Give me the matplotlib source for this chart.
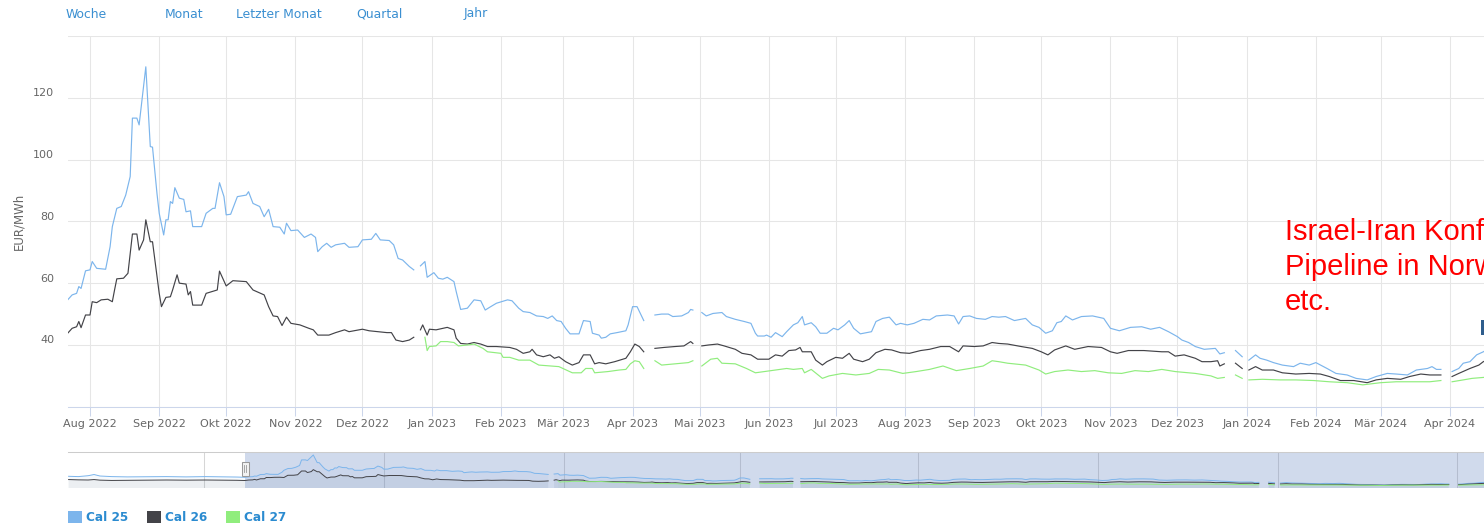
import numpy as np
import matplotlib
matplotlib.use("Agg")
import matplotlib.pyplot as plt
import matplotlib.dates as mdates
from matplotlib.patches import Patch, Rectangle
from matplotlib.transforms import ScaledTranslation, blended_transform_factory

# Trading days are counted from 1 Aug 2022; None marks a holiday gap in the series
cal25_day = [-100, -95, -90, -87, -84, -78, -70, -60, -50, -40, -30, -20, -14,
             -10, -8, -6, -5, -4, -2, 0, 1, 3, 7, 9, 10, 12, 14, 16, 18, 19, 21, 22, 25, 27, 28,
             30, 31, 33, 34, 35, 36, 37, 38, 40, 42, 43, 45, 46, 50, 52, 55, 56, 58, 60, 61,
             63, 66, 70, 71, 73, 76, 78, 80, 82, 85, 87, 88, 90, 93, 96, 99, 101, 102, 104,
             106, 108, 110, 114, 116, 120, 122, 126, 128, 130, 134, 136, 138, 140, 143, 145,
             146, 148, 150, 151, 154, 156, 158, 160, 163, 164, 166, 169, 172, 175, 177, 179,
             182, 187, 189, 192, 194, 197, 200, 203, 205, 207, 209, 211, 213, 215, 219, 221,
             224, 225, 228, 229, 231, 233, 236, 240, 241, 243, 245, 248, 250, 253, 256, 259,
             261, 265, 268, 269, 270, 272, 274, 276, 279, 283, 285, 289, 293, 296, 298, 299,
             302, 303, 305, 307, 310, 312, 315, 317, 319, 320, 323, 325, 327, 330, 333, 335,
             338, 340, 342, 345, 348, 350, 352, 355, 358, 361, 363, 366, 369, 373, 376, 379,
             384, 387, 389, 391, 394, 397, 401, 404, 407, 410, 414, 419, 422, 425, 428, 431,
             433, 435, 437, 440, 444, 449, 454, 457, 461, 466, 471, 475, 479, 483, 487, 489,
             492, 495, 499, 504, 506, 508, 510, 513, 516, 517, 519, 522, 524, 527, 530, 534,
             539, 542, 546, 549, 554, 558, 563, 567, 572, 576, 581, 585, 590, 594, 599, 601,
             603, 605, 607, 610, 613, 615, 618, 621, 624, 627, 630]
cal25_eur = [58, 57, 60, 64, 59, 57, 56, 56.5, 57, 56, 57, 56, 55.5,
             54.6, 56.2, 56.7, 58.9, 58.3, 64, 64.3, 67, 64.8, 64.5, 71.8, 78.3, 84.2, 84.8, 88.5,
             94.5, 113.4, 113.4, 111.2, 130, 104.2, 104, 89, 82.6, 75.6, 80.5, 80.5, 86.4, 85.8,
             90.9, 87.5, 87.1, 83.1, 83.4, 78.3, 78.3, 82.6, 84.2, 84.2, 92.5, 88, 82.1, 82.3, 88,
             88.5, 89.6, 85.8, 84.8, 81.5, 83.9, 78.3, 78.1, 75.9, 79.4, 77, 77.2, 74.8, 75.9,
             74.8, 70.2, 71.8, 72.9, 71.6, 72.4, 72.9, 71.6, 71.8, 74, 74.2, 76.1, 74, 73.8,
             72.4, 68, 67.5, 65.4, 64.3, None, 65.6, 67, 61.9, 63.4, 61.6, 61.3, 61.9, 60.5,
             57.3, 51.5, 51.9, 54.6, 54.3, 51.3, 52.2, 53.5, 54.6, 54.3, 51.9, 50.8, 50.5, 49.4,
             49.2, 48.6, 49.4, 47.9, 47.6, 45.4, 43.6, 43.6, 47.9, 47.6, 43.8, 43.2, 42.2, 42.5,
             43.6, 44, 44.6, 46.5, 52.4, 52.4, 47.9, None, 49.7, 50, 50, 49.2, 49.4, 50.5, 51.5,
             51.3, None, 50.5, 49.4, 50.2, 50.5, 49.2, 48.3, 47.6, 47, 43.8, 42.9, 42.9, 43.2,
             42.5, 44, 42.7, 44.3, 46.5, 47.2, 49.2, 46.5, 47.2, 45.9, 43.8, 43.8, 45.4, 44.9,
             46.5, 47.9, 45.4, 43.6, 44, 44.3, 47.6, 48.6, 49, 46.5, 47, 46.5, 47, 48.3, 48.1,
             49.4, 49.7, 49.4, 46.8, 49.2, 49.4, 48.6, 48.3, 49.2, 49, 49.2, 47.9, 48.6, 46.5,
             45.7, 43.8, 44.6, 47.2, 47.6, 49.4, 48.1, 49.2, 49.4, 48.6, 45.4, 44.6, 45.7, 45.9,
             45.1, 45.7, 44.3, 42.7, 41.6, 40.8, 39.5, 38.6, 38.9, 37.1, 37.5, None, 38.2, 36.2,
             None, 35.1, 36.8, 35.7, 35.1, 34.3, 33.5, 33, 34.1, 33.5, 34.3, 32.4, 30.8, 30.3,
             29.2, 28.7, 29.8, 30.8, 30.6, 30.3, 31.9, 32.4, 33, 32.1, 32.1, None, 31.4, 32.4,
             34.1, 34.6, 36.8, 37.8, 39, 40]

cal26_day = [-100, -95, -90, -87, -84, -78, -70, -60, -50, -40, -30, -20, -14,
             -10, -8, -6, -5, -4, -2, 0, 1, 3, 5, 8, 10, 11, 12, 15, 17, 19, 21, 22, 24, 25, 27,
             28, 30, 31, 32, 34, 36, 37, 39, 40, 43, 44, 45, 46, 50, 52, 57, 58, 61, 64, 70, 73,
             78, 80, 82, 84, 86, 88, 90, 94, 98, 100, 102, 107, 110, 114, 116, 122, 125, 129,
             133, 135, 137, 140, 143, 145, 146, 148, 149, 151, 152, 155, 158, 160, 163, 164,
             166, 169, 172, 175, 178, 182, 188, 191, 194, 197, 198, 200, 203, 206, 208, 210,
             213, 216, 219, 221, 224, 226, 228, 231, 235, 240, 242, 244, 246, 248, 250, 253,
             257, 262, 266, 269, 270, 272, 274, 277, 281, 284, 289, 292, 296, 299, 302, 304,
             307, 310, 313, 316, 318, 319, 323, 325, 328, 330, 334, 337, 340, 342, 346, 349,
             352, 356, 359, 363, 367, 372, 376, 381, 385, 389, 391, 396, 400, 404, 407, 411,
             417, 422, 426, 429, 432, 437, 441, 447, 453, 457, 460, 465, 472, 480, 483, 486,
             490, 495, 498, 502, 505, 506, 508, 510, 513, 516, 517, 519, 522, 525, 530, 534,
             540, 546, 551, 555, 560, 566, 572, 576, 581, 587, 591, 596, 600, 605, 607, 610,
             613, 618, 622, 624, 627, 630]
cal26_eur = [47, 46, 45.5, 47, 45, 44, 44.5, 45, 45.5, 45, 45.5, 45, 44.5,
             43.8, 45.4, 45.9, 47.6, 45.6, 49.7, 49.7, 54, 53.7, 54.6, 54.8, 54, 57.8, 61.4,
             61.6, 63.2, 75.9, 75.9, 70.7, 74, 80.5, 73.4, 73.4, 62.1, 56.7, 52.4, 55.4, 55.6,
             57.8, 62.7, 60, 59.7, 56.2, 57.3, 52.9, 52.9, 56.7, 57.8, 63.9, 59.1, 60.8, 60.5,
             57.8, 56.2, 52.4, 49.4, 49.2, 46.3, 49, 47, 46.5, 45.4, 44.9, 43.2, 43.2, 44, 44.9,
             44.3, 45.1, 44.6, 44.3, 44, 44, 41.6, 41.1, 41.6, 42.5, None, 44.9, 46.5, 43.2,
             45.1, 44.9, 45.4, 45.7, 44.9, 42.2, 40.5, 40.3, 40.8, 40.3, 39.5, 39.5, 39.2, 38.6,
             37.3, 37.8, 38.6, 36.8, 36.2, 36.8, 35.7, 36.2, 34.6, 33.5, 34.3, 36.8, 36.8, 33.9,
             34.3, 33.9, 34.6, 35.7, 37.8, 40.3, 39.5, 37.8, None, 38.9, 39.2, 39.5, 39.7, 41.1,
             40.5, None, 39.7, 40, 40.3, 39.7, 38.6, 37.3, 36.8, 35.4, 35.4, 35.4, 36.8, 36.4,
             38.2, 38.4, 39.2, 37.8, 37.8, 35.1, 33.5, 34.6, 36, 35.7, 37.3, 35.4, 34.6, 35.4,
             37.5, 38.6, 38.4, 37.5, 37.3, 38.2, 38.6, 39.5, 39.5, 37.8, 39.7, 39.5, 39.7, 40.8,
             40.5, 40.3, 39.5, 38.9, 37.8, 36.8, 38.4, 39.7, 38.6, 39.5, 39.2, 37.8, 37.3, 38.2,
             38.2, 37.8, 37.8, 36.4, 36.8, 35.7, 34.6, 34.6, 34.9, 33.2, 33.9, None, 34.1, 32.4,
             None, 31.9, 33, 31.9, 31.9, 31, 30.6, 30.8, 30.6, 29.8, 28.5, 28.5, 27.8, 28.7,
             29.2, 28.9, 29.8, 30.6, 30.3, 30.3, None, 29.8, 30.8, 32.4, 33.5, 34.6, 35.5, 36]

cal27_day = [150, 151, 152, 155, 157, 160, 163, 165, 169, 172, 176, 178, 184, 185, 188, 192,
             197, 201, 210, 216, 220, 222, 225, 226, 232, 237, 240, 242, 244, 246, 248, 250,
             253, 256, 262, 268, 270, 272, 274, 278, 281, 283, 289, 294, 298, 302, 307, 312,
             315, 319, 320, 323, 328, 331, 337, 343, 349, 353, 358, 364, 370, 376, 382, 388,
             394, 400, 404, 407, 411, 419, 425, 428, 432, 438, 444, 450, 456, 462, 468, 474,
             480, 486, 495, 502, 505, 508, 510, 513, 516, 517, 519, 525, 533, 540, 548, 555,
             563, 570, 578, 585, 593, 600, 605, 607, 610, 615, 619, 624, 627, 630]
cal27_eur = [42.5, 38.2, 39.5, 39.7, 41.1, 41.1, 40.8, 39.7, 40, 40.3, 38.9, 37.8, 37.3, 36,
             36, 35.1, 35.1, 33.5, 33, 31, 31, 32.4, 32.4, 31, 31.4, 31.9, 32.1, 33.9, 34.9,
             34.6, 32.4, None, 34.9, 33.5, 33.9, 34.3, 34.9, None, 33.2, 35.4, 35.7, 34.1, 33.9,
             32.4, 31, 31.4, 31.9, 32.4, 32.1, 32.4, 31, 32.1, 29.2, 30, 30.8, 30.3, 30.8, 32.1,
             31.9, 30.8, 31.4, 32.1, 33.2, 31.7, 32.4, 33.2, 34.9, 34.6, 34.1, 33.5, 31.9, 30.6,
             31.4, 31.9, 31.4, 31.7, 31, 30.8, 31.7, 31.4, 32.1, 31.4, 30.8, 30, 29.2, 29.5, None,
             30.3, 29.2, None, 28.7, 28.9, 28.7, 28.7, 28.5, 28.1, 27.8, 27.1, 27.8, 28.1, 28.1,
             28.1, 28.5, None, 28.1, 28.7, 29.2, 29.5, 29.8, 30]

series_names = ["Cal 25", "Cal 26", "Cal 27"]
series_colors = ["#7cb5ec", "#434348", "#90ed7d"]
months_de = ["Jan", "Feb", "Mär", "Apr", "Mai", "Jun", "Jul", "Aug", "Sep", "Okt", "Nov", "Dez"]
range_buttons = ["Woche", "Monat", "Letzter Monat", "Quartal", "Jahr"]
note_lines = ["Israel-Iran Konflikt", "Pipeline in Norwegen", "etc."]

W, H = 1484, 525
base = mdates.date2num(np.datetime64("2022-08-01"))


def to_x(days):
    return base + np.array(days, dtype=float)


def to_y(vals):
    return np.array([np.nan if v is None else v for v in vals], dtype=float)


series = [(to_x(cal25_day), to_y(cal25_eur)),
          (to_x(cal26_day), to_y(cal26_eur)),
          (to_x(cal27_day), to_y(cal27_eur))]

fig = plt.figure(figsize=(W / 100, H / 100), dpi=100)
fig.patch.set_facecolor("white")

# main plot
ax = fig.add_axes([68 / W, 1 - 406.8 / H, 1 - 68 / W, 370.9 / H])
for (x, y), c in zip(series, series_colors):
    ax.plot(x, y, color=c, lw=0.85, solid_joinstyle="round")

ax.set_xlim(base - 9.85, base + 624.3)
ax.set_ylim(20, 140)
ax.set_yticks(range(20, 141, 20))
ax.set_yticklabels(["", "40", "60", "80", "100", "120", ""])
ax.xaxis.set_major_locator(mdates.MonthLocator())
ax.xaxis.set_major_formatter(plt.FuncFormatter(
    lambda v, pos: f"{months_de[mdates.num2date(v).month - 1]} {mdates.num2date(v).year}"))
ax.grid(True, color="#e6e6e6", lw=0.75)
ax.set_axisbelow(True)
for s in ["left", "right", "top"]:
    ax.spines[s].set_visible(False)
ax.spines["bottom"].set_color("#ccd6eb")
ax.spines["bottom"].set_linewidth(0.75)
ax.tick_params(axis="x", length=6.5, width=0.75, color="#ccd6eb", labelsize=8,
               labelcolor="#666666", pad=2)
ax.tick_params(axis="y", length=0, labelsize=8, labelcolor="#666666", pad=9.9)
for lab in ax.get_yticklabels():
    lab.set_transform(lab.get_transform() + ScaledTranslation(0, 0.055, fig.dpi_scale_trans))
ax.set_ylabel("EUR/MWh", fontsize=8.5, color="#666666")
ax.yaxis.set_label_coords(-43 / 1416, 0.5)

# navigator
nav = fig.add_axes([68 / W, 1 - 488.3 / H, 1 - 68 / W, 36.6 / H])
nav_lo = 17.5
for (x, y), c in zip(series, series_colors):
    nav.fill_between(x, y, nav_lo, color=c, alpha=0.06, lw=0)
    nav.plot(x, y, color=c, lw=0.7)
nav.set_xlim(base - 100.3, base + 623)
nav.set_ylim(nav_lo, 141)
nav.xaxis.set_major_locator(mdates.MonthLocator(bymonth=[1, 4, 7, 10]))
nav.grid(True, axis="x", color="#d6d6d6", lw=0.75)
nav.set_axisbelow(True)
nav.set_xticklabels([])
nav.set_yticks([])
nav.tick_params(axis="x", length=0)
for s in ["left", "right", "bottom"]:
    nav.spines[s].set_visible(False)
nav.spines["top"].set_color("#cccccc")
nav.spines["top"].set_linewidth(0.75)
sel_start = base - 9.85
nav.axvspan(sel_start, base + 700, color=(0.4, 0.522, 0.761), alpha=0.3, lw=0)
tr = blended_transform_factory(nav.transData, nav.transAxes)
nav.add_patch(Rectangle((sel_start - 1.8, 0.34), 3.6, 0.39, transform=tr,
                        facecolor="#f2f2f2", edgecolor="#999999", lw=0.75, zorder=5))
for dx in (-0.6, 0.6):
    nav.plot([sel_start + dx] * 2, [0.44, 0.63], transform=tr, color="#999999", lw=0.6, zorder=6)

# range selector texts
for label, bx in zip(range_buttons, [66, 165, 236, 356, 464]):
    fig.text(bx / W, 1 - 14 / H, label, fontsize=8.9, color="#3a8fd1", va="center", ha="left")

# legend
handles = [Patch(facecolor=c, edgecolor="none") for c in series_colors]
fig.legend(handles, series_names, ncol=3, loc="lower left", frameon=False,
           bbox_to_anchor=(68 / W, 1 / H), borderpad=0, borderaxespad=0,
           prop={"size": 8.7, "weight": "bold"}, labelcolor="#2b8bd0",
           handlelength=1.15, handleheight=1.15, handletextpad=0.33, columnspacing=1.55)

# annotation overlay (runs off the right edge, as in the screenshot)
for i, line in enumerate(note_lines):
    fig.text(1285 / W, 1 - (240 + 35 * i) / H, line, fontsize=21, color="#ff0000",
             family="Liberation Sans", va="baseline", ha="left")
fig.patches.append(Rectangle((1481 / W, 1 - 335 / H), 3 / W, 15 / H,
                             transform=fig.transFigure, facecolor="#2e5d8c", lw=0))

fig.savefig("out.png", dpi=100)
